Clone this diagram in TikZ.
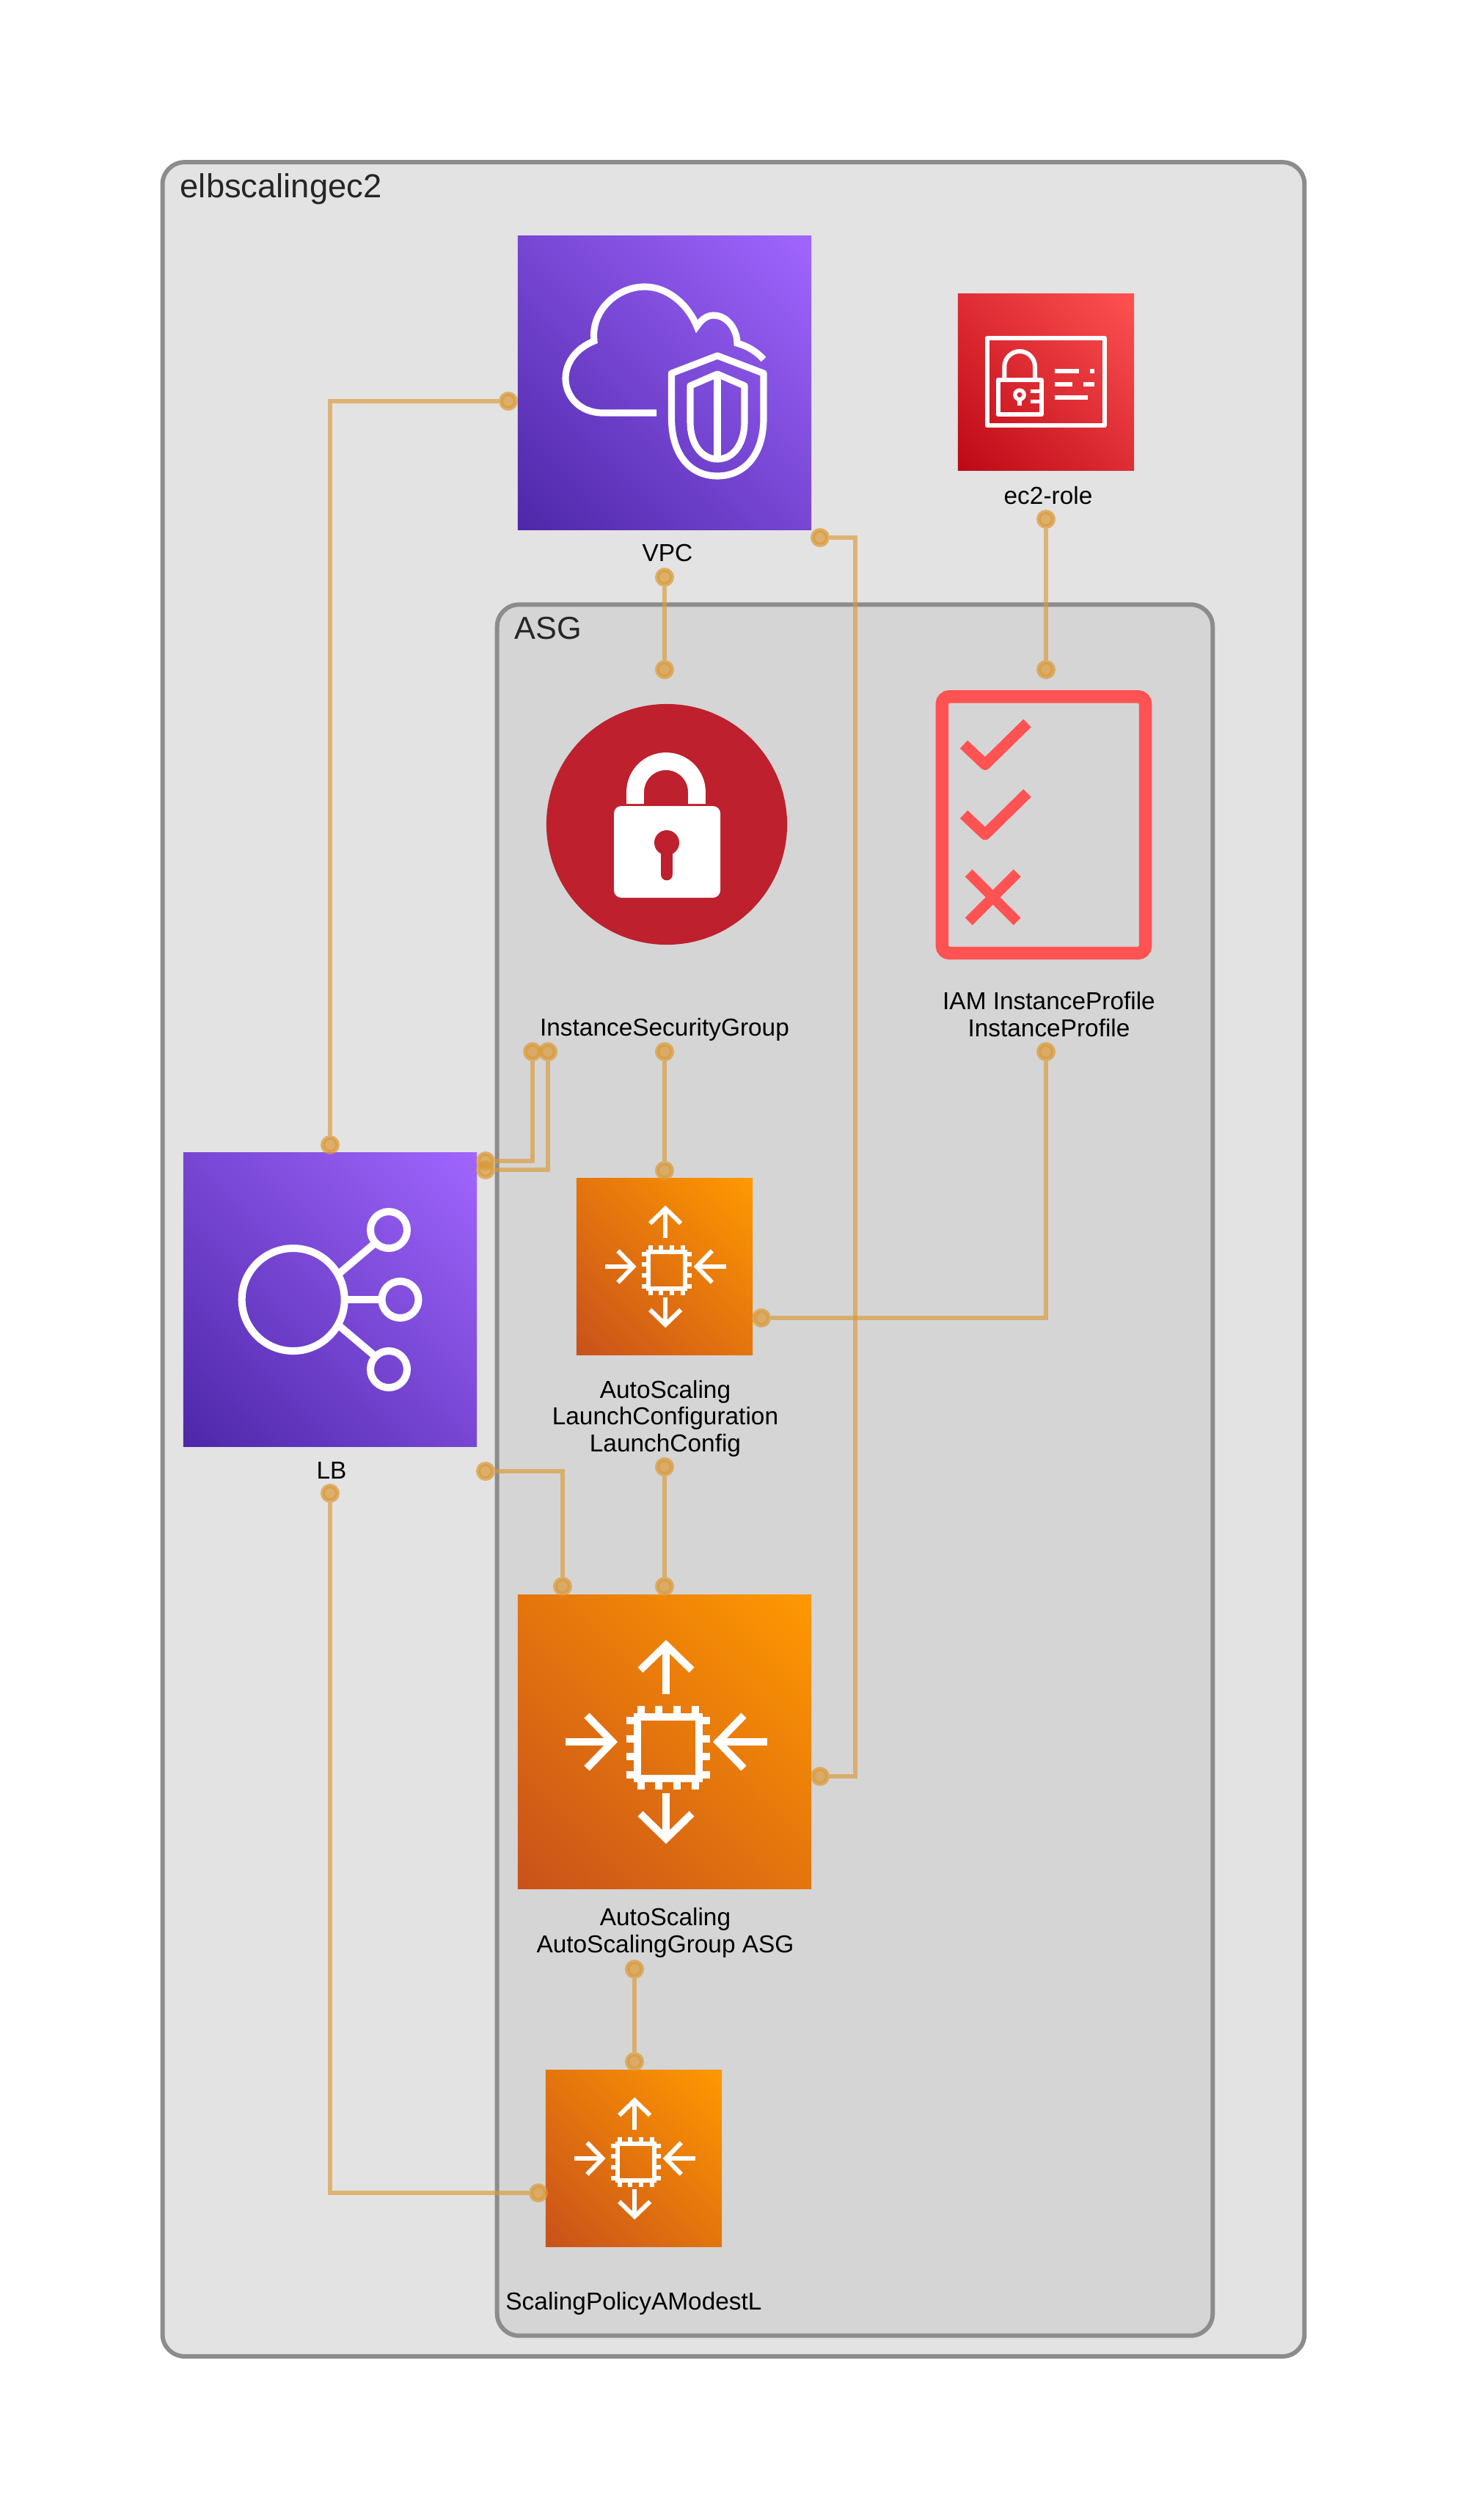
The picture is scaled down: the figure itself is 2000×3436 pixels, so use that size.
\documentclass[tikz,border=0pt]{standalone}
\usepackage{fontspec}
\setmainfont{Liberation Sans}
\usetikzlibrary{shapes.geometric}

\definecolor{groupline}{HTML}{8C8C8C}
\definecolor{groupouter}{HTML}{E3E3E3}
\definecolor{groupinner}{HTML}{D5D5D5}
\definecolor{linkorange}{HTML}{DB9A38}
\definecolor{purpleA}{HTML}{4D27A8}
\definecolor{purpleB}{HTML}{A166FF}
\definecolor{orangeA}{HTML}{C8511B}
\definecolor{orangeB}{HTML}{FF9900}
\definecolor{redA}{HTML}{BD0816}
\definecolor{redB}{HTML}{FF5252}
\definecolor{sgred}{HTML}{BE202E}

\pgfdeclareverticalshading{purplefade}{100bp}{color(0bp)=(purpleA); color(14bp)=(purpleA); color(86bp)=(purpleB); color(100bp)=(purpleB)}
\pgfdeclareverticalshading{orangefade}{100bp}{color(0bp)=(orangeA); color(14bp)=(orangeA); color(86bp)=(orangeB); color(100bp)=(orangeB)}
\pgfdeclareverticalshading{redfade}{100bp}{color(0bp)=(redA); color(14bp)=(redA); color(86bp)=(redB); color(100bp)=(redB)}

\tikzset{
  groupbox/.style={draw=groupline, line width=1.7pt, rounded corners=0.3cm, inner sep=0pt},
  grouplabel/.style={anchor=base west, inner sep=0pt, text=black!85},
  namelabel/.style={anchor=base, inner sep=0pt, align=center, font=\fontsize{9.5}{10.25}\selectfont},
  purpleicon/.style={inner sep=0pt, minimum size=4cm, shade, shading=purplefade, shading angle=-45},
  orangeicon/.style={inner sep=0pt, shade, shading=orangefade, shading angle=-45},
  redicon/.style={inner sep=0pt, minimum size=2.4cm, shade, shading=redfade, shading angle=-45},
  dot/.style={circle, fill=linkorange, draw=linkorange, opacity=0.7, line width=1.7pt, minimum size=0.2cm, inner sep=0pt},
  link/.style={draw=linkorange, opacity=0.65, line width=1.45pt},
  glyph/.style={draw=white, line width=2.6pt}
}

% Arrows round a chip, drawn for the 4cm square and scaled down
\newcommand{\scalingglyph}[2]{
  \begin{scope}[shift={(#1)}, scale=#2, draw=white, line width=#2*2.845pt]
    \draw (2,-65) -- (2,-133);
    \draw (-33,-98) -- (2,-132) -- (37,-98);
    \draw (2,70) -- (2,133);
    \draw (-33,98) -- (2,132) -- (37,98);
    \draw (-135,0) -- (-72,0);
    \draw (-106,-36) -- (-71,0) -- (-106,36);
    \draw (140,0) -- (73,0);
    \draw (108,-36) -- (73,0) -- (108,36);
    \draw (-37.4,-34.2) rectangle (46.6,49.8);
    \foreach \p in {-37,-12.3,12.3,37} {
      \draw (4.6+\p,-49.2) -- (4.6+\p,-39);
      \draw (4.6+\p,54.6) -- (4.6+\p,64.8);
      \draw (-52.4,7.8+\p) -- (-42.2,7.8+\p);
      \draw (51.4,7.8+\p) -- (61.6,7.8+\p);
    }
  \end{scope}
}

\begin{document}
\begin{tikzpicture}[x=0.01cm, y=-0.01cm]
      \useasboundingbox (0,0) rectangle (2000,3436);

      % Draw the two groups
      \node[groupbox, fill=groupouter, minimum width=15.56cm, minimum height=29.9cm] (elb) at (1000,1717) {};
      \node[groupbox, fill=groupinner, minimum width=9.75cm, minimum height=23.59cm] (asggroup) at (1165.5,2004.5) {};
      \node[grouplabel, font=\fontsize{12.9}{14}\selectfont] (elblabel) at (245,269) {elbscalingec2};
      \node[grouplabel, font=\fontsize{12.3}{14}\selectfont] (asggrouplabel) at (701,871) {ASG};

      % Draw the icon squares
      \node[purpleicon] (vpc) at (906,522) {};
      \node[redicon] (role) at (1426,521) {};
      \node[purpleicon] (lb) at (450,1772) {};
      \node[orangeicon, minimum size=2.4cm] (lc) at (906,1727) {};
      \node[orangeicon, minimum size=4cm] (asg) at (906,2375) {};
      \node[orangeicon, minimum size=2.4cm] (policy) at (864,2943) {};
      \node[circle, fill=sgred, minimum size=3.28cm, inner sep=0pt] (sg) at (909,1124) {};
      \node[draw=redB, line width=5pt, rounded corners=0.1cm, minimum width=2.77cm, minimum height=3.495cm, inner sep=0pt] (profile) at (1423,1124.75) {};

      % Cloud and shield
      \draw[glyph] (895,563) -- (822,563) .. controls (790,563) and (771,540) .. (771,516)
        .. controls (771,495) and (785,475) .. (810,465)
        .. controls (805,425) and (840,391) .. (879,391)
        .. controls (910,391) and (938,415) .. (950,445)
        .. controls (958,433) and (966,430) .. (973,430)
        .. controls (992,430) and (1005,450) .. (1005,468)
        .. controls (1020,472) and (1032,480) .. (1041,490);
      \draw[glyph, line join=round] (978,485) -- (1041,509) -- (1041,570) .. controls (1041,620) and (1015,649) .. (978,649)
        .. controls (941,649) and (915.5,620) .. (915.5,570) -- (915.5,509) -- cycle;
      \draw[glyph, line join=round] (978,510) -- (1015,526) -- (1015,575) .. controls (1015,605) and (1000,626) .. (978,626)
        .. controls (956,626) and (941,605) .. (941,575) -- (941,526) -- cycle;
      \draw[glyph] (978,510) -- (978,626);

      % Card with a padlock
      \draw[white, line width=1.7pt, line join=round] (1345.7,461) rectangle (1506.3,580);
      \draw[white, line width=1.7pt, line join=round] (1360.7,518) rectangle (1419.7,565);
      \draw[white, line width=1.7pt] (1369.3,518) -- (1369.3,500) arc[start angle=180, end angle=0, x radius=20.85, y radius=-21] -- (1411,518);
      \draw[white, line width=1.5pt] (1390,538.3) circle[radius=6.2];
      \draw[white, line width=1.7pt] (1390,544) -- (1390,553);
      \draw[white, line width=1.4pt] (1405,533.3) -- (1419,533.3);
      \draw[white, line width=1.4pt] (1405,547.3) -- (1419,547.3);
      \draw[white, line width=1.7pt] (1437.7,505.7) -- (1471,505.7);
      \draw[white, line width=1.7pt] (1486,505.7) -- (1492,505.7);
      \draw[white, line width=1.7pt] (1437.7,523.7) -- (1462,523.7);
      \draw[white, line width=1.7pt] (1476.7,523.7) -- (1492,523.7);
      \draw[white, line width=1.7pt] (1437.7,541.7) -- (1483,541.7);

      % Padlock on the red disc
      \fill[white, rounded corners=0.1cm] (837,1099) rectangle (982,1224);
      \draw[white, line width=6.8pt] (866,1096) -- (866,1080) arc[start angle=180, end angle=0, x radius=42, y radius=-42] -- (950,1096);
      \fill[sgred] (909,1149) circle[radius=17];
      \draw[sgred, line width=4.8pt, line cap=round] (909,1150) -- (909,1192);

      % Checks and cross
      \draw[redB, line width=4.27pt, line join=round] (1314,1015) -- (1343,1042.4) -- (1400.5,986);
      \draw[redB, line width=4.27pt, line join=round] (1314,1110.4) -- (1343,1137.8) -- (1400.5,1081.4);
      \draw[redB, line width=4pt] (1320.7,1190.4) -- (1386.7,1256.4);
      \draw[redB, line width=4pt] (1320.7,1256.4) -- (1386.7,1190.4);

      % Load balancer circles
      \draw[glyph, line width=2.845pt] (399.7,1772) circle[radius=70];
      \draw[glyph, line width=2.845pt] (530,1677) circle[radius=25];
      \draw[glyph, line width=2.845pt] (545.5,1772) circle[radius=25];
      \draw[glyph, line width=2.845pt] (530,1867) circle[radius=25];
      \draw[glyph, line width=2.845pt] (464,1735) -- (510,1696);
      \draw[glyph, line width=2.845pt] (474,1772) -- (520,1772);
      \draw[glyph, line width=2.845pt] (464,1809) -- (510,1848);

      % Scaling glyphs
      \scalingglyph{lc}{0.6}
      \scalingglyph{asg}{1}
      \scalingglyph{policy}{0.6}

      % Label the icons
      \node[namelabel] (vpclabel) at (910,765) {VPC};
      \node[namelabel] (rolelabel) at (1429,687) {ec2-role};
      \node[namelabel] (sglabel) at (906,1412) {InstanceSecurityGroup};
      \node[namelabel] (profilelabel) at (1430,1413) {IAM InstanceProfile\\InstanceProfile};
      \node[namelabel] (lblabel) at (452,2016) {LB};
      \node[namelabel] (lclabel) at (907,1979) {AutoScaling\\LaunchConfiguration\\LaunchConfig};
      \node[namelabel] (asglabel) at (907,2662) {AutoScaling\\AutoScalingGroup ASG};
      \node[namelabel] (policylabel) at (864,3149) {ScalingPolicyAModestL};

      % Link end points
      \node[dot] (vpcL) at (693,547) {};
      \node[dot] (vpcR) at (1118,733) {};
      \node[dot] (vpcB) at (906,787) {};
      \node[dot] (roleB) at (1426,708) {};
      \node[dot] (sgT) at (906,913) {};
      \node[dot] (profileT) at (1426,913) {};
      \node[dot] (sgA) at (726,1434) {};
      \node[dot] (sgC) at (747,1434) {};
      \node[dot] (sgB) at (906,1434) {};
      \node[dot] (profileB) at (1426,1434) {};
      \node[dot] (lbT) at (450,1561) {};
      \node[dot] (lbA) at (662,1583) {};
      \node[dot] (lbC) at (662,1595) {};
      \node[dot] (lcT) at (906,1596) {};
      \node[dot] (lcR) at (1038,1797) {};
      \node[dot] (lcB) at (906,2000) {};
      \node[dot] (lbD) at (662,2006) {};
      \node[dot] (lbB) at (450,2036) {};
      \node[dot] (asgA) at (767,2163) {};
      \node[dot] (asgT) at (906,2163) {};
      \node[dot] (asgR) at (1118,2422) {};
      \node[dot] (asgB) at (865,2685) {};
      \node[dot] (policyT) at (865,2811) {};
      \node[dot] (policyL) at (734,2990) {};
      \coordinate (vpcbend) at (1166,1500);

      % Draw the links
      \draw[link] (lbT) |- (vpcL);
      \draw[link] (vpcR) -| (vpcbend) |- (asgR);
      \draw[link] (vpcB) -- (sgT);
      \draw[link] (roleB) -- (profileT);
      \draw[link] (sgA) |- (lbA);
      \draw[link] (sgC) |- (lbC);
      \draw[link] (sgB) -- (lcT);
      \draw[link] (profileB) |- (lcR);
      \draw[link] (lcB) -- (asgT);
      \draw[link] (lbD) -| (asgA);
      \draw[link] (asgB) -- (policyT);
      \draw[link] (lbB) |- (policyL);
    \end{tikzpicture}
\end{document}
